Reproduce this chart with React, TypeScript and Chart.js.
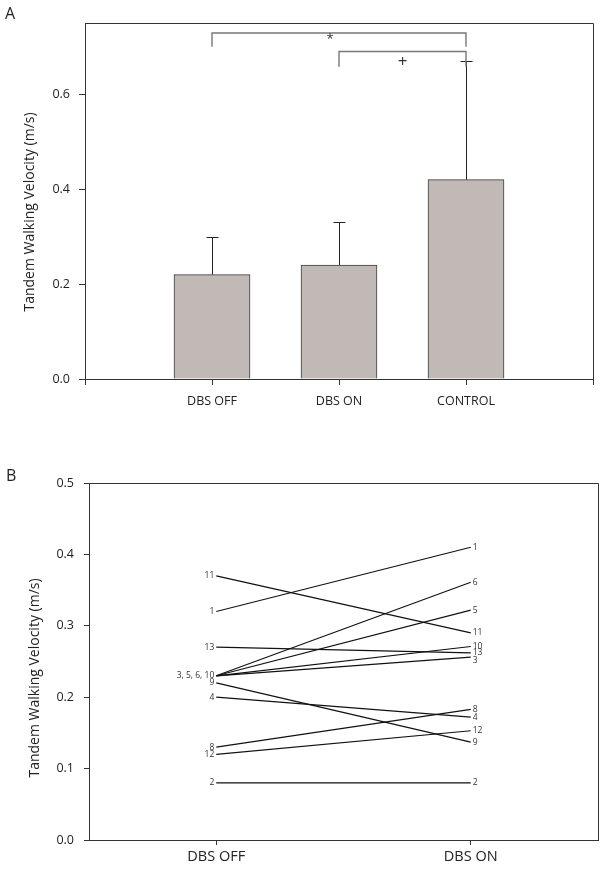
import React, { useEffect, useRef } from 'react';
import { Chart, registerables } from 'chart.js';
Chart.register(...registerables);

const FONT = '"Open Sans", "Noto Sans", sans-serif';

// ---------- Panel A data ----------
const categoriesA = ['DBS OFF', 'DBS ON', 'CONTROL'];
const meansA = [0.22, 0.24, 0.42];
const errUpperA = [0.30, 0.33, 0.67];
const yTicksA = [0, 0.2, 0.4, 0.6];
// significance brackets
const bracketFrom = [1, 2];
const bracketTo = [3, 3];
const bracketTop = [0.729, 0.69];
const bracketLeg = [0.70, 0.658];
const bracketSymbol = ['*', '+'];
const bracketSymbolSize = [13, 17];
const bracketSymbolX = [1.93, 2.5];
const bracketSymbolY = [0.716, 0.667];

// ---------- Panel B data ----------
const conditionsB = ['DBS OFF', 'DBS ON'];
const subjects = ['1', '2', '3', '4', '5', '6', '8', '9', '10', '11', '12', '13'];
const dbsOff = [0.32, 0.08, 0.23, 0.20, 0.23, 0.23, 0.13, 0.22, 0.23, 0.37, 0.12, 0.27];
const dbsOn = [0.41, 0.08, 0.256, 0.172, 0.322, 0.361, 0.183, 0.137, 0.271, 0.29, 0.153, 0.262];
const yTicksB = [0, 0.1, 0.2, 0.3, 0.4, 0.5];

const AXIS = '#333';
const TEXT = '#222';

const panelAPlugin = {
  id: 'panelA',
  afterDatasetsDraw(chart: any) {
    const { ctx, scales } = chart;
    const x = scales.x, y = scales.y;
    ctx.save();
    ctx.strokeStyle = '#222';
    ctx.lineWidth = 1;
    meansA.forEach((m, i) => {
      const px = Math.round(x.getPixelForValue(i + 1)) + 0.5;
      const y0 = y.getPixelForValue(m);
      const y1 = Math.round(y.getPixelForValue(errUpperA[i])) + 0.5;
      ctx.beginPath();
      ctx.moveTo(px, y0);
      ctx.lineTo(px, y1);
      ctx.moveTo(px - 6, y1);
      ctx.lineTo(px + 6, y1);
      ctx.stroke();
    });
    ctx.restore();
  },
  afterDraw(chart: any) {
    const { ctx, chartArea: ca, scales } = chart;
    const x = scales.x, y = scales.y;
    ctx.save();
    ctx.strokeStyle = AXIS;
    ctx.lineWidth = 1;
    ctx.beginPath();
    ctx.moveTo(ca.left, Math.round(ca.top) + 0.5);
    ctx.lineTo(Math.round(ca.right) + 0.5, Math.round(ca.top) + 0.5);
    ctx.lineTo(Math.round(ca.right) + 0.5, ca.bottom);
    ctx.stroke();
    // brackets
    ctx.strokeStyle = '#777';
    ctx.lineWidth = 1.4;
    bracketFrom.forEach((f, i) => {
      const x0 = x.getPixelForValue(f);
      const x1 = x.getPixelForValue(bracketTo[i]);
      const yt = y.getPixelForValue(bracketTop[i]);
      const yl = y.getPixelForValue(bracketLeg[i]);
      ctx.beginPath();
      ctx.moveTo(x0, yl);
      ctx.lineTo(x0, yt);
      ctx.lineTo(x1, yt);
      ctx.lineTo(x1, yl);
      ctx.stroke();
      ctx.fillStyle = '#333';
      ctx.font = `${bracketSymbolSize[i]}px ${FONT}`;
      ctx.textAlign = 'center';
      ctx.textBaseline = 'middle';
      ctx.fillText(bracketSymbol[i], x.getPixelForValue(bracketSymbolX[i]), y.getPixelForValue(bracketSymbolY[i]));
    });
    // panel letter
    ctx.fillStyle = TEXT;
    ctx.font = `16px ${FONT}`;
    ctx.textAlign = 'left';
    ctx.textBaseline = 'middle';
    ctx.fillText('A', 5, 14);
    // y title
    ctx.save();
    ctx.translate(30, 212);
    ctx.rotate(-Math.PI / 2);
    ctx.font = `14px ${FONT}`;
    ctx.textAlign = 'center';
    ctx.fillText('Tandem Walking Velocity (m/s)', 0, 0);
    ctx.restore();
    ctx.restore();
  },
};

const panelBPlugin = {
  id: 'panelB',
  afterDraw(chart: any) {
    const { ctx, chartArea: ca, scales } = chart;
    const x = scales.x, y = scales.y;
    ctx.save();
    ctx.strokeStyle = AXIS;
    ctx.lineWidth = 1;
    ctx.beginPath();
    ctx.moveTo(ca.left, Math.round(ca.top) + 0.5);
    ctx.lineTo(Math.round(ca.right) + 0.5, Math.round(ca.top) + 0.5);
    ctx.lineTo(Math.round(ca.right) + 0.5, ca.bottom);
    ctx.stroke();

    ctx.fillStyle = '#333';
    ctx.font = `8.5px ${FONT}`;
    ctx.textBaseline = 'middle';
    // left labels, grouping subjects with identical values
    const groups: Record<string, string[]> = {};
    dbsOff.forEach((v, i) => {
      const k = v.toFixed(3);
      (groups[k] = groups[k] || []).push(subjects[i]);
    });
    ctx.textAlign = 'right';
    const xl = x.getPixelForValue(0) - 2;
    Object.keys(groups).forEach((k) => {
      ctx.fillText(groups[k].join(', '), xl, y.getPixelForValue(parseFloat(k)));
    });
    // right labels
    ctx.textAlign = 'left';
    const xr = x.getPixelForValue(1) + 2;
    dbsOn.forEach((v, i) => {
      const nudge = subjects[i] === '3' ? 3 : 0;
      ctx.fillText(subjects[i], xr, y.getPixelForValue(v) + nudge);
    });

    ctx.fillStyle = TEXT;
    ctx.font = `16px ${FONT}`;
    ctx.fillText('B', 6, 46);
    ctx.save();
    ctx.translate(35, 248);
    ctx.rotate(-Math.PI / 2);
    ctx.font = `14px ${FONT}`;
    ctx.textAlign = 'center';
    ctx.fillText('Tandem Walking Velocity (m/s)', 0, 0);
    ctx.restore();
    ctx.restore();
  },
};

function ChartA() {
  const ref = useRef<HTMLCanvasElement>(null);
  useEffect(() => {
    const chart = new Chart(ref.current!, {
      type: 'bar',
      data: {
        labels: ['', ...categoriesA, ''],
        datasets: [
          {
            data: [null, ...meansA, null] as any,
            backgroundColor: '#c1b9b5',
            borderColor: '#3c3c3c',
            borderWidth: 1,
            barThickness: 76,
          },
        ],
      },
      options: {
        animation: false,
        responsive: false,
        devicePixelRatio: 1,
        layout: { padding: { top: 23, right: 11, left: 0, bottom: 0 } },
        plugins: { legend: { display: false }, tooltip: { enabled: false } },
        scales: {
          x: {
            offset: false,
            grid: { offset: false, drawOnChartArea: false, drawTicks: true, tickLength: 6, color: AXIS },
            border: { color: AXIS },
            ticks: { color: TEXT, font: { family: FONT, size: 12.5 }, padding: 9, maxRotation: 0, autoSkip: false },
            afterFit: (s: any) => { s.height = 51; },
          },
          y: {
            min: 0,
            max: 0.75,
            afterBuildTicks: (s: any) => { s.ticks = yTicksA.map((v) => ({ value: v })); },
            grid: { drawOnChartArea: false, drawTicks: true, tickLength: 6, color: AXIS },
            border: { color: AXIS },
            ticks: { color: TEXT, font: { family: FONT, size: 12.5 }, padding: 9, callback: (v: any) => Number(v).toFixed(1) },
            afterFit: (s: any) => { s.width = 85; },
          },
        },
      } as any,
      plugins: [panelAPlugin],
    });
    return () => chart.destroy();
  }, []);
  return <canvas ref={ref} width={604} height={430} style={{ position: 'absolute', left: 0, top: 0, width: 604, height: 430 }} />;
}

function ChartB() {
  const ref = useRef<HTMLCanvasElement>(null);
  useEffect(() => {
    const chart = new Chart(ref.current!, {
      type: 'line',
      data: {
        datasets: subjects.map((s, i) => ({
          label: s,
          data: [
            { x: 0, y: dbsOff[i] },
            { x: 1, y: dbsOn[i] },
          ],
          borderColor: '#111',
          borderWidth: 1.2,
          pointRadius: 0,
          fill: false,
        })),
      },
      options: {
        animation: false,
        responsive: false,
        devicePixelRatio: 1,
        layout: { padding: { top: 53, right: 6, left: 0, bottom: 0 } },
        plugins: { legend: { display: false }, tooltip: { enabled: false } },
        scales: {
          x: {
            type: 'linear',
            min: -0.5,
            max: 1.5,
            afterBuildTicks: (s: any) => { s.ticks = [{ value: 0 }, { value: 1 }]; },
            grid: { drawOnChartArea: false, drawTicks: true, tickLength: 5, color: AXIS },
            border: { color: AXIS },
            ticks: { color: TEXT, font: { family: FONT, size: 14.5 }, padding: 3, maxRotation: 0, autoSkip: false, callback: (v: any) => conditionsB[v] ?? '' },
            afterFit: (s: any) => { s.height = 29; },
          },
          y: {
            min: 0,
            max: 0.5,
            afterBuildTicks: (s: any) => { s.ticks = yTicksB.map((v) => ({ value: v })); },
            grid: { drawOnChartArea: false, drawTicks: true, tickLength: 5, color: AXIS },
            border: { color: AXIS },
            ticks: { color: TEXT, font: { family: FONT, size: 12.5 }, padding: 10, callback: (v: any) => Number(v).toFixed(1) },
            afterFit: (s: any) => { s.width = 89; },
          },
        },
      } as any,
      plugins: [panelBPlugin],
    });
    return () => chart.destroy();
  }, []);
  return <canvas ref={ref} width={604} height={439} style={{ position: 'absolute', left: 0, top: 430, width: 604, height: 439 }} />;
}

export default function App() {
  return (
    <div style={{ position: 'absolute', left: 0, top: 0, width: 604, height: 869, background: '#fff' }}>
      <ChartA />
      <ChartB />
    </div>
  );
}
